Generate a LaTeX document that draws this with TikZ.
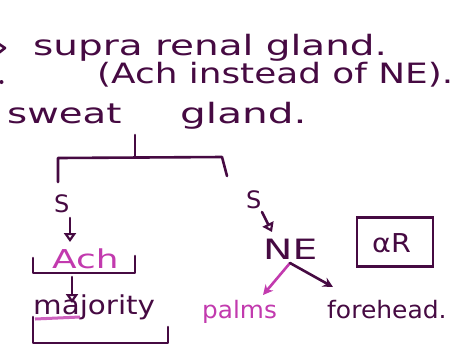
\documentclass[tikz,border=0pt]{standalone}
\usepackage{graphicx}
\usepackage{fontspec}
\setmainfont{DejaVu Sans}
\usetikzlibrary{arrows.meta}
\definecolor{ink}{HTML}{460A42}
\definecolor{hilite}{HTML}{C23AAE}
% stretch a word horizontally, handwriting is wide
\newcommand{\wide}[2]{\scalebox{#1}[1]{#2}}
\tikzset{
  hand/.style={font=\fontsize{28}{30}\selectfont, text=ink, inner sep=0pt, anchor=base west},
  small/.style={font=\fontsize{24}{26}\selectfont, text=ink, inner sep=0pt, anchor=base west},
  pen/.style={draw=ink, line width=2.6pt, line cap=round, line join=round},
  darr/.style={pen, -{Triangle[open, length=9pt, width=12pt, line width=2.2pt]}},
  sarr/.style={pen, -{Stealth[length=10pt, width=10pt]}}
}
\begin{document}
\begin{tikzpicture}[x=1pt, y=-1pt]
\useasboundingbox[fill=white] (0,0) rectangle (462,360);

% heading lines
\coordinate (mk1) at (-4,42);
\coordinate (mk2) at (5,48);
\coordinate (mk3) at (-4,55);
\draw[pen] (mk1) -- (mk2) -- (mk3);
\fill[ink] (1.5,82) circle (2pt);
\node[hand] (l1) at (33,55) {\wide{1.39}{supra renal gland.}};
\node[hand] (l2) at (97,83) {\wide{1.28}{(Ach instead of NE).}};
\node[hand] (l3a) at (7,123) {\wide{1.38}{sweat}};
\node[hand] (l3b) at (180,123) {\wide{1.45}{gland.}};

% split bracket under the sweat gland
\coordinate (stemtop) at (135,135);
\coordinate (mid) at (135,157);
\coordinate (lc) at (58,158);
\coordinate (rc) at (222,157);
\coordinate (lend) at (58,182);
\coordinate (rend) at (227,176);
\draw[pen] (stemtop) -- (mid);
\draw[pen] (lend) -- (lc) -- (rc) -- (rend);

% sympathetic cholinergic branch
\node[small] (s1) at (54,212) {S};
\node[small, font=\fontsize{26}{28}\selectfont, text=hilite] (ach) at (52,268) {\wide{1.38}{Ach}};
\node[small, font=\fontsize{26}{28}\selectfont] (maj) at (33,314) {\wide{1.13}{majority}};
\coordinate (a1s) at (70,218);
\coordinate (a1e) at (70,242);
\draw[darr] (a1s) -- (a1e);
\coordinate (b1a) at (33,258);
\coordinate (b1b) at (33,273);
\coordinate (b1c) at (135,273);
\coordinate (b1d) at (135,256);
\draw[pen] (b1a) -- (b1b) -- (b1c) -- (b1d);
\coordinate (a2s) at (72,277);
\coordinate (a2e) at (72,303);
\draw[darr] (a2s) -- (a2e);
\coordinate (b2a) at (33,317);
\coordinate (b2b) at (33,343);
\coordinate (b2c) at (168,343);
\coordinate (b2d) at (168,327);
\draw[pen] (b2a) -- (b2b) -- (b2c) -- (b2d);
\coordinate (hl1) at (35,319);
\coordinate (hl2) at (80,317);
\draw[hilite, line width=3pt, opacity=0.8] (hl1) -- (hl2);

% noradrenergic branch
\node[small] (s2) at (246,208) {S};
\node[small, font=\fontsize{28}{30}\selectfont] (ne) at (263,259) {\wide{1.4}{NE}};
\coordinate (a3s) at (262,212);
\coordinate (a3e) at (272,232);
\draw[darr] (a3s) -- (a3e);
\node[draw=ink, line width=2.6pt, minimum width=76pt, minimum height=49pt, inner sep=0pt] (ar) at (395,242) {};
\node[small, font=\fontsize{26}{28}\selectfont] (arl) at (372,252) {\wide{1.1}{αR}};
\node[small, text=hilite] (palms) at (202,318) {\wide{1.03}{palms}};
\node[small] (fore) at (327,318) {\wide{1.04}{forehead.}};
\coordinate (fork) at (290,263);
\coordinate (pt) at (263,295);
\coordinate (ft) at (333,287);
\draw[sarr, draw=hilite] (fork) -- (pt);
\draw[sarr] (fork) -- (ft);
\end{tikzpicture}
\end{document}
